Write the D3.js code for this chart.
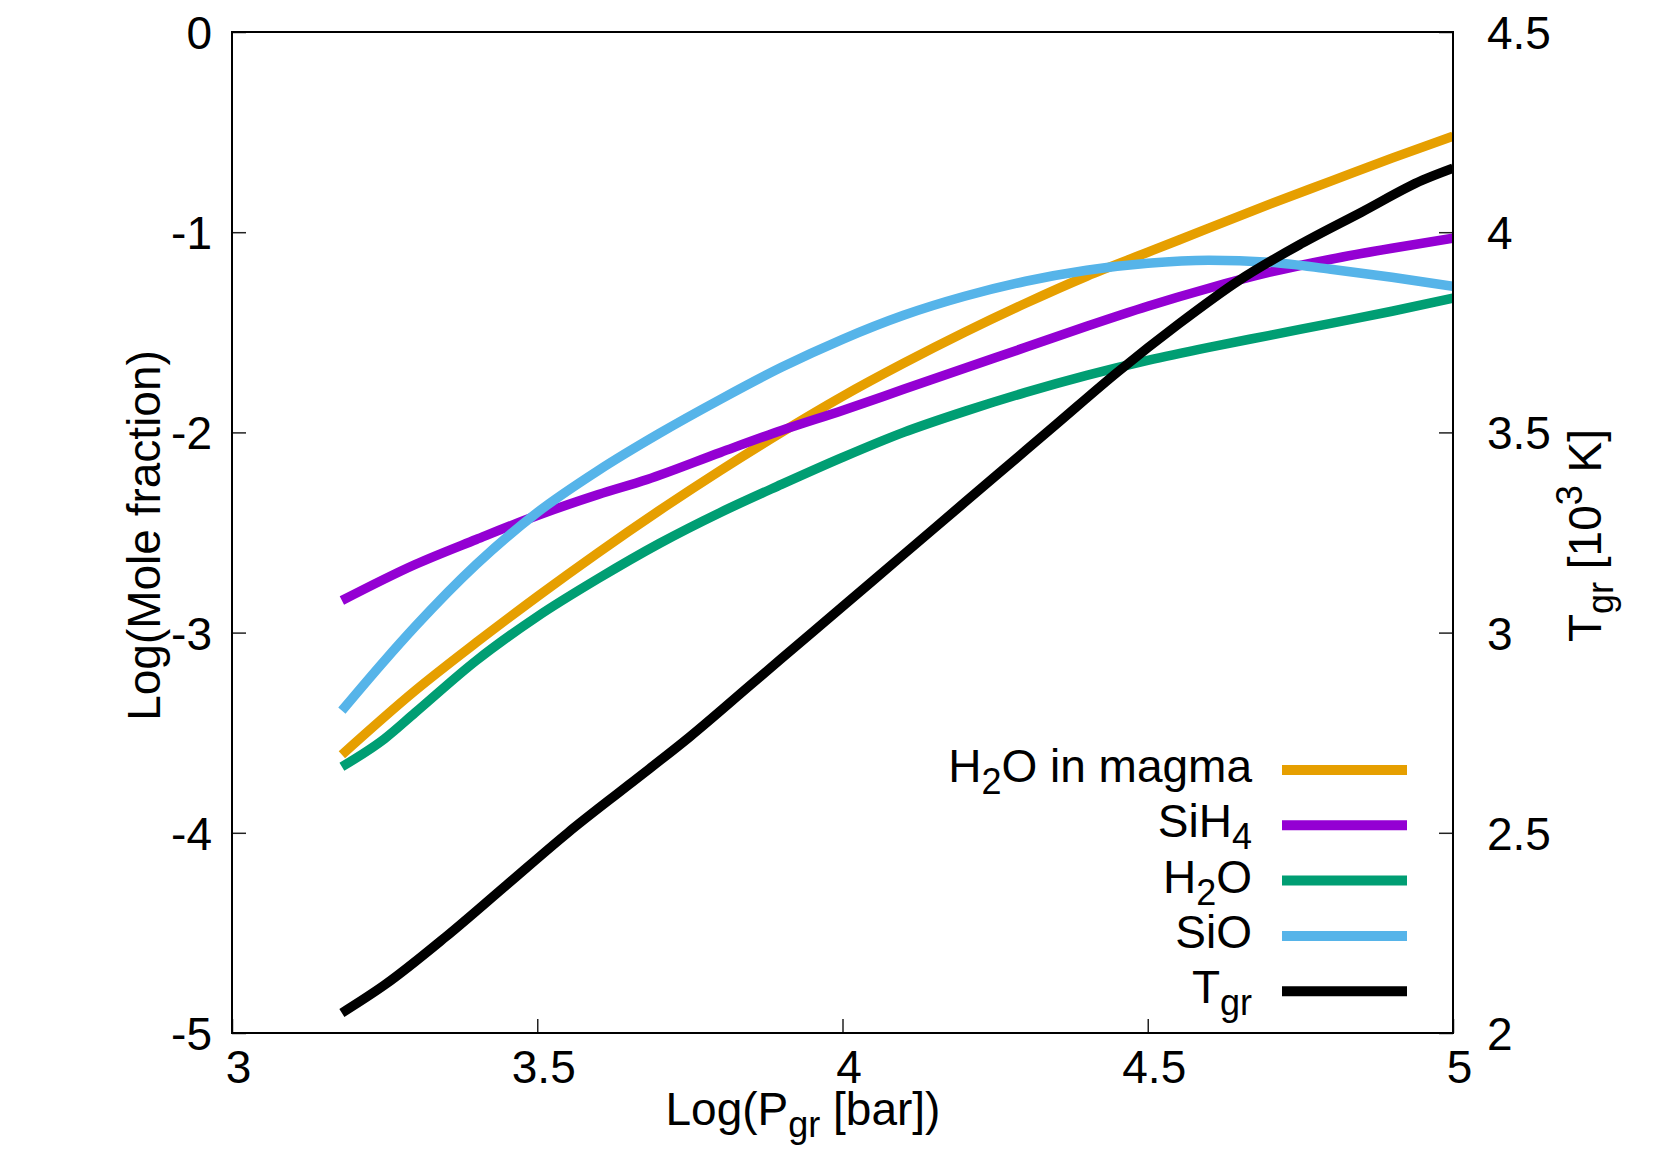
<!DOCTYPE html>
<html>
<head>
<meta charset="utf-8">
<script src="https://cdn.jsdelivr.net/npm/d3@7"></script>
<style>
  body { margin: 0; background: #fff; }
  text { font-family: "Liberation Sans", Arial, Helvetica, sans-serif; fill: #000; }
</style>
</head>
<body>
<div id="chart"></div>
<script>
// values: [log P_gr, value]
var magmaH2O = [[3.18,-3.61],[3.30,-3.29],[3.40,-3.05],[3.50,-2.82],[3.60,-2.60],[3.70,-2.39],[3.80,-2.19],
                [3.90,-2.00],[4.00,-1.82],[4.10,-1.655],[4.20,-1.50],[4.30,-1.355],[4.40,-1.22],[4.50,-1.10],
                [4.60,-0.98],[4.70,-0.86],[4.80,-0.745],[4.90,-0.63],[5.00,-0.52]];
var siH4 = [[3.18,-2.84],[3.30,-2.66],[3.40,-2.535],[3.50,-2.415],[3.60,-2.31],[3.68,-2.235],[3.80,-2.10],
            [3.90,-1.99],[4.00,-1.89],[4.10,-1.785],[4.20,-1.68],[4.30,-1.575],[4.40,-1.47],[4.50,-1.37],
            [4.60,-1.28],[4.70,-1.20],[4.80,-1.135],[4.90,-1.08],[5.00,-1.03]];
var h2o = [[3.18,-3.67],[3.25,-3.53],[3.30,-3.40],[3.40,-3.14],[3.50,-2.92],[3.60,-2.73],[3.70,-2.555],
           [3.80,-2.40],[3.90,-2.26],[4.00,-2.125],[4.10,-2.00],[4.20,-1.895],[4.30,-1.80],[4.40,-1.715],
           [4.50,-1.64],[4.60,-1.575],[4.70,-1.515],[4.80,-1.455],[4.90,-1.395],[5.00,-1.33]];
var siO = [[3.18,-3.39],[3.25,-3.14],[3.30,-2.97],[3.40,-2.66],[3.50,-2.40],[3.60,-2.19],[3.70,-2.005],
           [3.80,-1.835],[3.90,-1.675],[4.00,-1.535],[4.10,-1.415],[4.20,-1.32],[4.30,-1.245],[4.40,-1.19],
           [4.50,-1.155],[4.60,-1.14],[4.70,-1.15],[4.80,-1.185],[4.90,-1.225],[5.00,-1.27]];
// temperature in 10^3 K (right axis)
var tGr = [[3.18,2.05],[3.25,2.12],[3.35,2.24],[3.45,2.37],[3.55,2.50],[3.65,2.62],[3.75,2.74],[3.85,2.87],
           [3.95,3.00],[4.05,3.13],[4.15,3.26],[4.25,3.39],[4.35,3.52],[4.45,3.65],[4.55,3.77],[4.65,3.88],
           [4.75,3.97],[4.85,4.05],[4.95,4.13],[5.00,4.16]];

var seriesNames = ["H_{2}O in magma", "SiH_{4}", "H_{2}O", "SiO", "T_{gr}"];
var seriesColors = ["#e69f00", "#9400d3", "#009e73", "#56b4e9", "#000000"];

var xTicks = [3, 3.5, 4, 4.5, 5];
var yTicks = [0, -1, -2, -3, -4, -5];
var y2Ticks = [2, 2.5, 3, 3.5, 4, 4.5];

// set the dimensions and margins of the graph
var margin = {top: 32, right: 208, bottom: 130, left: 232},
    width = 1661 - margin.left - margin.right,
    height = 1163 - margin.top - margin.bottom;

var svg = d3.select("#chart")
  .append("svg")
    .attr("width", width + margin.left + margin.right)
    .attr("height", height + margin.top + margin.bottom)
  .append("g")
    .attr("transform", "translate(" + margin.left + "," + margin.top + ")");

var x = d3.scaleLinear().domain([3, 5]).range([0, width]);
var y = d3.scaleLinear().domain([-5, 0]).range([height, 0]);
var y2 = d3.scaleLinear().domain([2, 4.5]).range([height, 0]);

// write gnuplot-style "_{..}" / "^{..}" labels as tspans
function richText(sel, str, subSize) {
  var re = /([_^])\{([^}]*)\}/g, last = 0, m, shift = 0;
  function add(t, d, small) {
    if (!t.length) return;
    var ts = sel.append("tspan").text(t).attr("dy", d - shift);
    if (small) ts.style("font-size", subSize + "px");
    shift = d;
  }
  while ((m = re.exec(str)) !== null) {
    add(str.slice(last, m.index), 0, false);
    add(m[2], m[1] === "_" ? 12 : -19, true);
    last = re.lastIndex;
  }
  add(str.slice(last), 0, false);
}

// Axes: ticks point inwards
function styleAxis(g) {
  g.select(".domain").remove();
  g.selectAll(".tick line").attr("stroke", "#222").attr("stroke-width", 1.5);
  g.selectAll(".tick text").style("font-size", "46px").attr("fill", "#000")
    .style("font-family", "'Liberation Sans', Arial, sans-serif");
}

svg.append("g")
  .attr("transform", "translate(0," + height + ")")
  .call(d3.axisBottom(x).tickValues(xTicks).tickSize(-14).tickPadding(17).tickFormat(d3.format("")))
  .call(styleAxis)
  .selectAll(".tick text").attr("dx", 6);

svg.append("g")
  .call(d3.axisLeft(y).tickValues(yTicks).tickSize(-14).tickPadding(20).tickFormat(function(d){ return String(d); }))
  .call(styleAxis)
  .selectAll(".tick text").attr("dy", "0.36em");

svg.append("g")
  .attr("transform", "translate(" + width + ",0)")
  .call(d3.axisRight(y2).tickValues(y2Ticks).tickSize(-14).tickPadding(34).tickFormat(d3.format("")))
  .call(styleAxis)
  .selectAll(".tick text").attr("dy", "0.36em");

// clip to the frame
svg.append("clipPath").attr("id", "clip")
  .append("rect").attr("width", width).attr("height", height);

var lineL = d3.line()
  .x(function(d){ return x(d[0]); })
  .y(function(d){ return y(d[1]); })
  .curve(d3.curveMonotoneX);
var lineR = d3.line()
  .x(function(d){ return x(d[0]); })
  .y(function(d){ return y2(d[1]); })
  .curve(d3.curveMonotoneX);

var plotData = [magmaH2O, siH4, h2o, siO, tGr];
var curves = svg.append("g").attr("clip-path", "url(#clip)");
plotData.forEach(function(data, i) {
  curves.append("path")
    .datum(data)
    .attr("fill", "none")
    .attr("stroke", seriesColors[i])
    .attr("stroke-width", 9.5)
    .attr("stroke-linejoin", "round")
    .attr("d", i === 4 ? lineR : lineL);
});

// legend
var legend = svg.append("g");
seriesNames.forEach(function(name, i) {
  var ly = 738 + i * 55.3;
  legend.append("line")
    .attr("x1", 1050).attr("x2", 1175)
    .attr("y1", ly).attr("y2", ly)
    .attr("stroke", seriesColors[i])
    .attr("stroke-width", 10);
  var t = legend.append("text")
    .attr("x", 1020).attr("y", ly + 12)
    .attr("text-anchor", "end")
    .style("font-size", "46px");
  richText(t, name, 36);
});

// frame
svg.append("rect")
  .attr("width", width).attr("height", height)
  .attr("fill", "none").attr("stroke", "#000").attr("stroke-width", 2);

// axis titles
var xt = svg.append("text")
  .attr("x", 571).attr("y", 1093)
  .attr("text-anchor", "middle")
  .style("font-size", "46px");
richText(xt, "Log(P_{gr} [bar])", 36);

svg.append("text")
  .attr("transform", "translate(-72," + (height / 2 + 3) + ") rotate(-90)")
  .attr("text-anchor", "middle")
  .style("font-size", "46px")
  .text("Log(Mole fraction)");

var rt = svg.append("text")
  .attr("transform", "translate(1369," + (height / 2 + 3) + ") rotate(-90)")
  .attr("text-anchor", "middle")
  .style("font-size", "46px");
richText(rt, "T_{gr} [10^{3} K]", 36);
</script>
</body>
</html>
